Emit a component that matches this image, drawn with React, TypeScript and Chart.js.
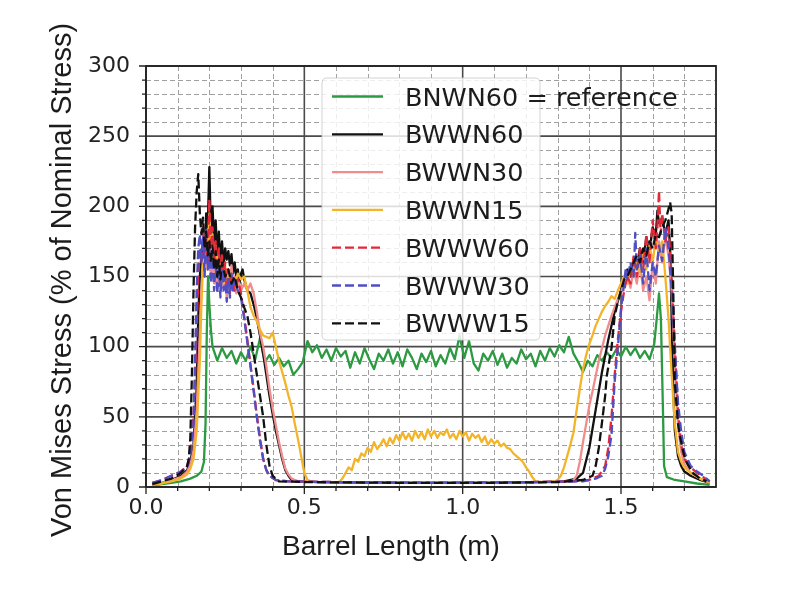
import React, { useEffect, useRef } from 'react';
import { Chart, registerables } from 'chart.js';

Chart.register(...registerables);

// ---------- data ----------
const seriesLabels = ['BNWN60 = reference', 'BWWN60', 'BWWN30', 'BWWN15', 'BWWW60', 'BWWW30', 'BWWW15'];

const xAxisTitle = 'Barrel Length (m)';
const yAxisTitle = 'Von Mises Stress (% of Nominal Stress)';

const xTickLabels = ['0.0', '0.5', '1.0', '1.5'];
const xMajorTicks = [0, 0.5, 1.0, 1.5];
const xMinorTicks = [0.1, 0.2, 0.3, 0.4, 0.6, 0.7, 0.8, 0.9, 1.1, 1.2, 1.3, 1.4, 1.6, 1.7];
const yMajorTicks = [0, 50, 100, 150, 200, 250, 300];
const yMinorTicks = [10, 20, 30, 40, 60, 70, 80, 90, 110, 120, 130, 140, 160, 170, 180, 190, 210, 220, 230, 240, 260, 270, 280, 290];

// BNWN60 = reference
const bnwn60X = [
  0.02, 0.05, 0.08, 0.11, 0.14, 0.16, 0.175, 0.183, 0.188, 0.192, 0.196, 0.20, 0.205,
  0.21, 0.225, 0.24, 0.255, 0.27, 0.285, 0.30, 0.315, 0.33, 0.345,
  0.36, 0.375, 0.39, 0.405, 0.42, 0.435, 0.45, 0.465, 0.48, 0.495,
  0.51, 0.525, 0.54, 0.555, 0.57, 0.585, 0.60, 0.615, 0.63, 0.645,
  0.66, 0.675, 0.69, 0.705, 0.72, 0.735, 0.75, 0.765, 0.78, 0.795,
  0.81, 0.825, 0.84, 0.855, 0.87, 0.885, 0.90, 0.915, 0.93, 0.945,
  0.96, 0.975, 0.99, 1.005, 1.02, 1.035, 1.05, 1.065, 1.08, 1.095,
  1.11, 1.125, 1.14, 1.155, 1.17, 1.185, 1.20, 1.215, 1.23, 1.245,
  1.26, 1.275, 1.29, 1.305, 1.32, 1.335, 1.35, 1.365, 1.38, 1.395,
  1.41, 1.425, 1.44, 1.455, 1.47, 1.485, 1.50, 1.515, 1.53, 1.545,
  1.56, 1.575, 1.59, 1.605,
  1.612, 1.62, 1.626, 1.632, 1.636, 1.645, 1.67, 1.70, 1.74, 1.78,
];
const bnwn60Y = [
  1, 2, 3, 4, 6, 8, 11, 18, 45, 110, 150, 130, 112,
  100, 90, 99, 92, 97, 88, 96, 90, 100, 91,
  106, 89, 94, 87, 92, 86, 90, 80, 84, 89,
  104, 96, 101, 92, 98, 90, 99, 93, 97, 85,
  96, 88, 99, 91, 84, 95, 90, 98, 88, 96,
  86, 98, 92, 84, 95, 89, 97, 86, 94, 88,
  99, 91, 108, 92, 104, 88, 83, 95, 90, 97,
  87, 95, 85, 92, 88, 98, 91, 95, 86, 97,
  90, 99, 93, 101, 96, 107, 95, 89, 82, 90,
  86, 94, 90, 96, 92, 98, 93, 100, 94, 99,
  92, 97, 91, 102,
  118, 138, 120, 60, 15, 7, 5, 4, 2.5, 1.5,
];

// BWWN60
const bwwn60X = [
  0.02, 0.05, 0.08, 0.11, 0.13, 0.14, 0.15, 0.16, 0.165, 0.17,
  0.175, 0.18, 0.185, 0.19, 0.195, 0.20, 0.205, 0.21, 0.215, 0.22,
  0.225, 0.23, 0.235, 0.24, 0.245, 0.25, 0.255, 0.26, 0.265, 0.27,
  0.275, 0.28, 0.285, 0.29, 0.295, 0.30, 0.305, 0.31, 0.32, 0.33,
  0.34, 0.35, 0.36, 0.37, 0.38, 0.39, 0.40, 0.41, 0.42, 0.43,
  0.44, 0.45, 0.46, 0.48, 0.55, 0.70, 0.90, 1.10, 1.25, 1.32,
  1.36, 1.38, 1.40, 1.42, 1.44, 1.46, 1.48, 1.50, 1.51, 1.52,
  1.53, 1.54, 1.55, 1.56, 1.57, 1.58, 1.59, 1.60, 1.61, 1.615,
  1.62, 1.63, 1.64, 1.65, 1.655, 1.66, 1.665, 1.67, 1.68, 1.69,
  1.70, 1.72, 1.75, 1.78,
];
const bwwn60Y = [
  2, 3, 5, 8, 12, 18, 30, 70, 120, 150,
  165, 175, 160, 195, 185, 228, 180, 200, 175, 190,
  165, 182, 160, 175, 158, 170, 162, 168, 158, 166,
  152, 160, 150, 155, 145, 152, 155, 148, 140, 138,
  130, 120, 108, 95, 80, 65, 52, 40, 30, 20,
  12, 8, 5, 4, 3.5, 3, 3, 3, 3.5, 4,
  6, 10, 28, 55, 82, 105, 125, 140, 148, 155,
  150, 162, 158, 170, 160, 178, 168, 185, 180, 197,
  188, 192, 180, 190, 170, 120, 70, 40, 22, 15,
  11, 8, 5, 3,
];

// BWWN30
const bwwn30X = [
  0.02, 0.05, 0.08, 0.11, 0.13, 0.14, 0.15, 0.16, 0.17, 0.175,
  0.18, 0.185, 0.19, 0.195, 0.20, 0.205, 0.21, 0.215, 0.22, 0.225,
  0.23, 0.235, 0.24, 0.245, 0.25, 0.255, 0.26, 0.265, 0.27, 0.275,
  0.28, 0.285, 0.29, 0.30, 0.31, 0.32, 0.33, 0.34, 0.35, 0.36,
  0.37, 0.38, 0.39, 0.40, 0.41, 0.42, 0.43, 0.44, 0.45, 0.46,
  0.48, 0.55, 0.80, 1.10, 1.30, 1.34, 1.35, 1.36, 1.37, 1.38,
  1.39, 1.40, 1.41, 1.42, 1.43, 1.44, 1.45, 1.46, 1.47, 1.48,
  1.49, 1.50, 1.51, 1.52, 1.53, 1.54, 1.55, 1.56, 1.57, 1.58,
  1.59, 1.60, 1.61, 1.62, 1.63, 1.64, 1.65, 1.66, 1.67, 1.68,
  1.69, 1.70, 1.72, 1.75, 1.78,
];
const bwwn30Y = [
  2, 3, 5, 7, 11, 16, 26, 55, 110, 140,
  160, 150, 172, 155, 178, 150, 168, 145, 162, 140,
  158, 138, 155, 142, 150, 135, 152, 140, 158, 145,
  150, 138, 148, 140, 145, 140, 145, 138, 125, 110,
  100, 86, 70, 56, 44, 32, 22, 13, 9, 6,
  4, 3.5, 3, 3, 3.5, 4, 5, 8, 18, 32,
  45, 58, 68, 79, 90, 99, 108, 115, 122, 128,
  134, 139, 145, 150, 142, 155, 145, 160, 140, 150,
  133, 160, 145, 175, 160, 178, 165, 140, 90, 45,
  25, 16, 10, 6, 3,
];

// BWWN15
const bwwn15X = [
  0.02, 0.05, 0.08, 0.11, 0.13, 0.14, 0.15, 0.16, 0.17, 0.175,
  0.18, 0.185, 0.19, 0.195, 0.20, 0.205, 0.21, 0.215, 0.22, 0.225,
  0.23, 0.235, 0.24, 0.245, 0.25, 0.255, 0.26, 0.265, 0.27, 0.28,
  0.29, 0.30, 0.31, 0.32, 0.33, 0.34, 0.35, 0.36, 0.37, 0.38,
  0.39, 0.40, 0.41, 0.42, 0.43, 0.44, 0.45, 0.46, 0.47, 0.48,
  0.49, 0.50, 0.51, 0.53, 0.57, 0.61, 0.62, 0.63, 0.64, 0.65,
  0.66, 0.67, 0.68, 0.69, 0.70, 0.71, 0.72, 0.73, 0.74, 0.75,
  0.76, 0.77, 0.78, 0.79, 0.80, 0.81, 0.82, 0.83, 0.84, 0.85,
  0.86, 0.87, 0.88, 0.89, 0.90, 0.91, 0.92, 0.93, 0.94, 0.95,
  0.96, 0.97, 0.98, 0.99, 1.00, 1.01, 1.02, 1.03, 1.04, 1.05,
  1.06, 1.07, 1.08, 1.09, 1.10, 1.11, 1.12, 1.13, 1.14, 1.15,
  1.16, 1.17, 1.18, 1.19, 1.20, 1.21, 1.22, 1.23, 1.26, 1.29,
  1.30, 1.31, 1.32, 1.33, 1.34, 1.35, 1.36, 1.37, 1.38, 1.39,
  1.40, 1.41, 1.42, 1.43, 1.44, 1.45, 1.46, 1.47, 1.48, 1.49,
  1.50, 1.51, 1.52, 1.53, 1.54, 1.55, 1.56, 1.57, 1.58, 1.59,
  1.60, 1.61, 1.62, 1.63, 1.64, 1.65, 1.66, 1.67, 1.68, 1.69,
  1.70, 1.72, 1.75, 1.78,
];
const bwwn15Y = [
  1.5, 2.5, 4, 6, 9, 13, 20, 40, 90, 130,
  160, 170, 180, 165, 195, 170, 180, 160, 172, 150,
  165, 148, 160, 145, 158, 142, 155, 140, 150, 145,
  152, 148, 150, 140, 128, 122, 118, 112, 108, 107,
  106, 110, 100, 90, 82, 74, 65, 57, 45, 34,
  22, 10, 5, 3.5, 3, 3.5, 6, 10, 14, 12,
  20, 18, 24, 22, 28, 25, 32, 27, 30, 34,
  29, 35, 31, 37, 33, 39, 34, 38, 33, 40,
  35, 39, 34, 41, 36, 40, 35, 39, 37, 41,
  35, 38, 34, 40, 36, 39, 33, 38, 35, 37,
  32, 36, 30, 34, 31, 33, 29, 31, 28, 27,
  24, 22, 20, 18, 14, 11, 7, 4, 3.5, 4,
  5, 8, 14, 22, 30, 39, 55, 70, 84, 94,
  102, 108, 115, 120, 125, 129, 132, 136, 134, 140,
  145, 150, 145, 158, 150, 165, 152, 168, 155, 172,
  160, 178, 165, 175, 150, 120, 80, 45, 25, 18,
  14, 10, 6, 3,
];

// BWWW60
const bwww60X = [
  0.02, 0.05, 0.08, 0.11, 0.13, 0.14, 0.15, 0.16, 0.165, 0.17,
  0.175, 0.18, 0.185, 0.19, 0.195, 0.20, 0.205, 0.21, 0.215, 0.22,
  0.225, 0.23, 0.235, 0.24, 0.245, 0.25, 0.255, 0.26, 0.265, 0.27,
  0.28, 0.29, 0.30, 0.31, 0.32, 0.33, 0.34, 0.35, 0.36, 0.37,
  0.38, 0.39, 0.41, 0.45, 0.60, 0.90, 1.20, 1.35, 1.40, 1.43,
  1.45, 1.46, 1.47, 1.48, 1.49, 1.50, 1.51, 1.52, 1.53, 1.54,
  1.55, 1.56, 1.57, 1.58, 1.59, 1.60, 1.61, 1.615, 1.62, 1.625,
  1.63, 1.64, 1.65, 1.66, 1.67, 1.68, 1.69, 1.70, 1.72, 1.74,
  1.76, 1.78,
];
const bwww60Y = [
  3, 5, 8, 11, 15, 24, 50, 110, 150, 170,
  160, 185, 165, 178, 160, 205, 170, 185, 160, 175,
  150, 170, 145, 165, 148, 160, 140, 155, 138, 150,
  140, 148, 138, 122, 105, 87, 70, 51, 35, 20,
  12, 8, 5, 4, 3.5, 3, 3.5, 4, 5, 8,
  15, 28, 50, 80, 105, 125, 140, 150, 145, 165,
  150, 170, 155, 180, 160, 190, 170, 185, 211, 180,
  195, 175, 185, 150, 100, 55, 30, 20, 14, 10,
  7, 4,
];

// BWWW30
const bwww30X = [
  0.02, 0.05, 0.08, 0.11, 0.13, 0.14, 0.15, 0.155, 0.16, 0.165,
  0.17, 0.175, 0.18, 0.185, 0.19, 0.195, 0.20, 0.205, 0.21, 0.215,
  0.22, 0.225, 0.23, 0.235, 0.24, 0.245, 0.25, 0.255, 0.26, 0.265,
  0.27, 0.275, 0.28, 0.29, 0.30, 0.31, 0.32, 0.33, 0.34, 0.35,
  0.36, 0.37, 0.38, 0.39, 0.41, 0.45, 0.60, 0.90, 1.20, 1.38,
  1.42, 1.44, 1.45, 1.46, 1.47, 1.48, 1.49, 1.50, 1.51, 1.515,
  1.52, 1.53, 1.54, 1.545, 1.55, 1.56, 1.57, 1.58, 1.59, 1.60,
  1.61, 1.62, 1.63, 1.64, 1.65, 1.66, 1.67, 1.68, 1.69, 1.70,
  1.72, 1.74, 1.76, 1.78,
];
const bwww30Y = [
  3, 5, 8, 11, 14, 22, 45, 90, 140, 170,
  180, 160, 178, 150, 185, 155, 172, 145, 168, 140,
  160, 138, 158, 135, 155, 140, 150, 132, 148, 135,
  152, 140, 148, 140, 135, 120, 103, 86, 68, 50,
  33, 20, 12, 8, 5, 4, 3.5, 3, 3.5, 4,
  6, 8, 13, 22, 37, 75, 99, 127, 145, 156,
  148, 160, 150, 181, 155, 165, 145, 170, 140, 160,
  150, 172, 161, 185, 170, 140, 100, 60, 40, 25,
  15, 11, 8, 4,
];

// BWWW15
const bwww15X = [
  0.02, 0.05, 0.08, 0.11, 0.13, 0.135, 0.14, 0.145, 0.15, 0.155,
  0.16, 0.165, 0.17, 0.175, 0.18, 0.185, 0.19, 0.195, 0.20, 0.205,
  0.21, 0.215, 0.22, 0.225, 0.23, 0.235, 0.24, 0.25, 0.26, 0.27,
  0.28, 0.29, 0.30, 0.31, 0.32, 0.33, 0.34, 0.35, 0.36, 0.37,
  0.38, 0.39, 0.40, 0.42, 0.50, 0.80, 1.10, 1.30, 1.38, 1.41,
  1.42, 1.43, 1.44, 1.45, 1.455, 1.47, 1.48, 1.49, 1.50, 1.51,
  1.52, 1.53, 1.54, 1.55, 1.56, 1.57, 1.58, 1.59, 1.60, 1.61,
  1.62, 1.63, 1.64, 1.65, 1.655, 1.66, 1.665, 1.67, 1.68, 1.686,
  1.70, 1.708, 1.727, 1.75, 1.77,
];
const bwww15Y = [
  2, 4, 6, 10, 15, 20, 35, 80, 140, 185,
  210, 223, 195, 180, 192, 170, 182, 165, 175, 160,
  172, 155, 168, 150, 162, 148, 160, 150, 155, 145,
  150, 140, 135, 128, 122, 110, 95, 80, 65, 50,
  30, 15, 8, 4, 3.5, 3, 3, 3.5, 5, 8,
  15, 28, 46, 65, 79, 99, 122, 132, 140, 148,
  150, 155, 160, 165, 160, 170, 165, 175, 170, 180,
  178, 185, 190, 198, 203, 195, 140, 74, 45, 36,
  22, 17, 10, 6, 4,
];

const seriesX = [bnwn60X, bwwn60X, bwwn30X, bwwn15X, bwww60X, bwww30X, bwww15X];
const seriesY = [bnwn60Y, bwwn60Y, bwwn30Y, bwwn15Y, bwww60Y, bwww30Y, bwww15Y];

// ---------- styles ----------
const seriesColors = ['#2c9a40', '#111111', '#f08c8c', '#f4b42a', '#e3283a', '#4f4fc3', '#111111'];
const seriesDashes: number[][] = [[], [], [], [], [9, 4], [9, 4], [9, 4]];

const TICK_FONT = '"DejaVu Sans", sans-serif';
const TITLE_FONT = '"Liberation Sans", Arial, sans-serif';

const mplPlugin = {
  id: 'mplDecor',
  beforeDatasetsDraw(chart: any) {
    const { ctx, chartArea: a, scales } = chart;
    const xs = scales.x;
    const ys = scales.y;
    ctx.save();
    // minor grid
    ctx.strokeStyle = '#a0a0a0';
    ctx.lineWidth = 1;
    ctx.setLineDash([5, 3]);
    ctx.beginPath();
    for (const v of yMinorTicks) {
      const p = Math.round(ys.getPixelForValue(v)) + 0.5;
      ctx.moveTo(a.left, p);
      ctx.lineTo(a.right, p);
    }
    for (const v of xMinorTicks) {
      const p = Math.round(xs.getPixelForValue(v)) + 0.5;
      ctx.moveTo(p, a.top);
      ctx.lineTo(p, a.bottom);
    }
    ctx.stroke();
    // major grid
    ctx.setLineDash([]);
    ctx.strokeStyle = '#4a4a4a';
    ctx.lineWidth = 1.6;
    ctx.beginPath();
    for (const v of yMajorTicks) {
      const p = ys.getPixelForValue(v);
      ctx.moveTo(a.left, p);
      ctx.lineTo(a.right, p);
    }
    for (const v of xMajorTicks) {
      const p = xs.getPixelForValue(v);
      ctx.moveTo(p, a.top);
      ctx.lineTo(p, a.bottom);
    }
    ctx.stroke();
    ctx.restore();
  },
  afterDatasetsDraw(chart: any) {
    const { ctx, chartArea: a, scales } = chart;
    const xs = scales.x;
    const ys = scales.y;
    ctx.save();
    ctx.strokeStyle = '#222';
    ctx.lineWidth = 1.8;
    ctx.strokeRect(a.left, a.top, a.right - a.left, a.bottom - a.top);
    // tick marks (outward)
    ctx.lineWidth = 1.3;
    ctx.beginPath();
    for (const v of yMajorTicks) {
      const p = ys.getPixelForValue(v);
      ctx.moveTo(a.left - 7, p);
      ctx.lineTo(a.left, p);
    }
    for (const v of yMinorTicks) {
      const p = ys.getPixelForValue(v);
      ctx.moveTo(a.left - 4, p);
      ctx.lineTo(a.left, p);
    }
    for (const v of xMajorTicks) {
      const p = xs.getPixelForValue(v);
      ctx.moveTo(p, a.bottom);
      ctx.lineTo(p, a.bottom + 7);
    }
    for (const v of xMinorTicks) {
      const p = xs.getPixelForValue(v);
      ctx.moveTo(p, a.bottom);
      ctx.lineTo(p, a.bottom + 4);
    }
    ctx.stroke();
    ctx.restore();
  },
  afterDraw(chart: any) {
    const { ctx } = chart;
    ctx.save();
    // axis titles
    ctx.fillStyle = '#1c1c1c';
    ctx.font = `28px ${TITLE_FONT}`;
    ctx.textAlign = 'center';
    ctx.textBaseline = 'alphabetic';
    ctx.fillText(xAxisTitle, 391, 555);
    ctx.save();
    ctx.translate(71, 280);
    ctx.rotate(-Math.PI / 2);
    ctx.font = `29px ${TITLE_FONT}`;
    ctx.fillText(yAxisTitle, 0, 0);
    ctx.restore();

    // legend
    const bx = 322, by = 78, bw = 218, bh = 262, r = 5;
    ctx.beginPath();
    ctx.moveTo(bx + r, by);
    ctx.lineTo(bx + bw - r, by);
    ctx.quadraticCurveTo(bx + bw, by, bx + bw, by + r);
    ctx.lineTo(bx + bw, by + bh - r);
    ctx.quadraticCurveTo(bx + bw, by + bh, bx + bw - r, by + bh);
    ctx.lineTo(bx + r, by + bh);
    ctx.quadraticCurveTo(bx, by + bh, bx, by + bh - r);
    ctx.lineTo(bx, by + r);
    ctx.quadraticCurveTo(bx, by, bx + r, by);
    ctx.closePath();
    ctx.fillStyle = 'rgba(255,255,255,0.82)';
    ctx.fill();
    ctx.strokeStyle = 'rgba(200,200,200,0.8)';
    ctx.lineWidth = 1;
    ctx.stroke();

    ctx.font = `25.5px ${TICK_FONT}`;
    ctx.textAlign = 'left';
    ctx.textBaseline = 'alphabetic';
    seriesLabels.forEach((label, i) => {
      const cy = 96.5 + i * 37.8;
      ctx.strokeStyle = seriesColors[i];
      ctx.lineWidth = 2.3;
      ctx.setLineDash(seriesDashes[i]);
      ctx.beginPath();
      ctx.moveTo(332, cy);
      ctx.lineTo(383, cy);
      ctx.stroke();
      ctx.setLineDash([]);
      ctx.fillStyle = '#1c1c1c';
      ctx.fillText(label, 405, cy + 9);
    });
    ctx.restore();
  },
};

export default function App() {
  const canvasRef = useRef<HTMLCanvasElement>(null);

  useEffect(() => {
    const canvas = canvasRef.current;
    if (!canvas) return;
    const datasets = seriesLabels.map((label, i) => ({
      label,
      data: seriesX[i].map((x, j) => ({ x, y: seriesY[i][j] })),
      borderColor: seriesColors[i],
      backgroundColor: seriesColors[i],
      borderWidth: 2.3,
      borderDash: seriesDashes[i],
      borderJoinStyle: 'round' as const,
      pointRadius: 0,
      tension: 0,
      fill: false,
      order: seriesLabels.length - 1 - i,
    }));

    const chart = new Chart(canvas, {
      type: 'line',
      data: { datasets },
      options: {
        animation: false,
        responsive: false,
        devicePixelRatio: 1,
        parsing: false as any,
        layout: { padding: { top: 66, right: 72, left: 0, bottom: 0 } },
        plugins: {
          legend: { display: false },
          tooltip: { enabled: false },
          title: { display: false },
        },
        scales: {
          x: {
            type: 'linear',
            position: 'bottom',
            min: 0,
            max: 1.8,
            grid: { display: false, drawTicks: false },
            border: { display: false },
            ticks: {
              font: { family: TICK_FONT, size: 22 },
              color: '#222',
              padding: 8,
              maxRotation: 0,
              autoSkip: false,
              callback: (_v: any, idx: number) => xTickLabels[idx],
            },
            afterBuildTicks: (s: any) => {
              s.ticks = xMajorTicks.map((value) => ({ value }));
            },
            afterFit: (s: any) => {
              s.height = 106;
            },
          },
          y: {
            type: 'linear',
            min: 0,
            max: 300,
            grid: { display: false, drawTicks: false },
            border: { display: false },
            ticks: {
              font: { family: TICK_FONT, size: 22 },
              color: '#222',
              padding: 16,
              autoSkip: false,
              callback: (v: any) => String(v),
            },
            afterBuildTicks: (s: any) => {
              s.ticks = yMajorTicks.map((value) => ({ value }));
            },
            afterFit: (s: any) => {
              s.width = 146;
            },
          },
        },
      },
      plugins: [mplPlugin],
    });
    return () => chart.destroy();
  }, []);

  return (
    <div style={{ position: 'fixed', left: 0, top: 0, width: 788, height: 593, background: '#fff' }}>
      <canvas ref={canvasRef} width={788} height={593} style={{ display: 'block' }} />
    </div>
  );
}
